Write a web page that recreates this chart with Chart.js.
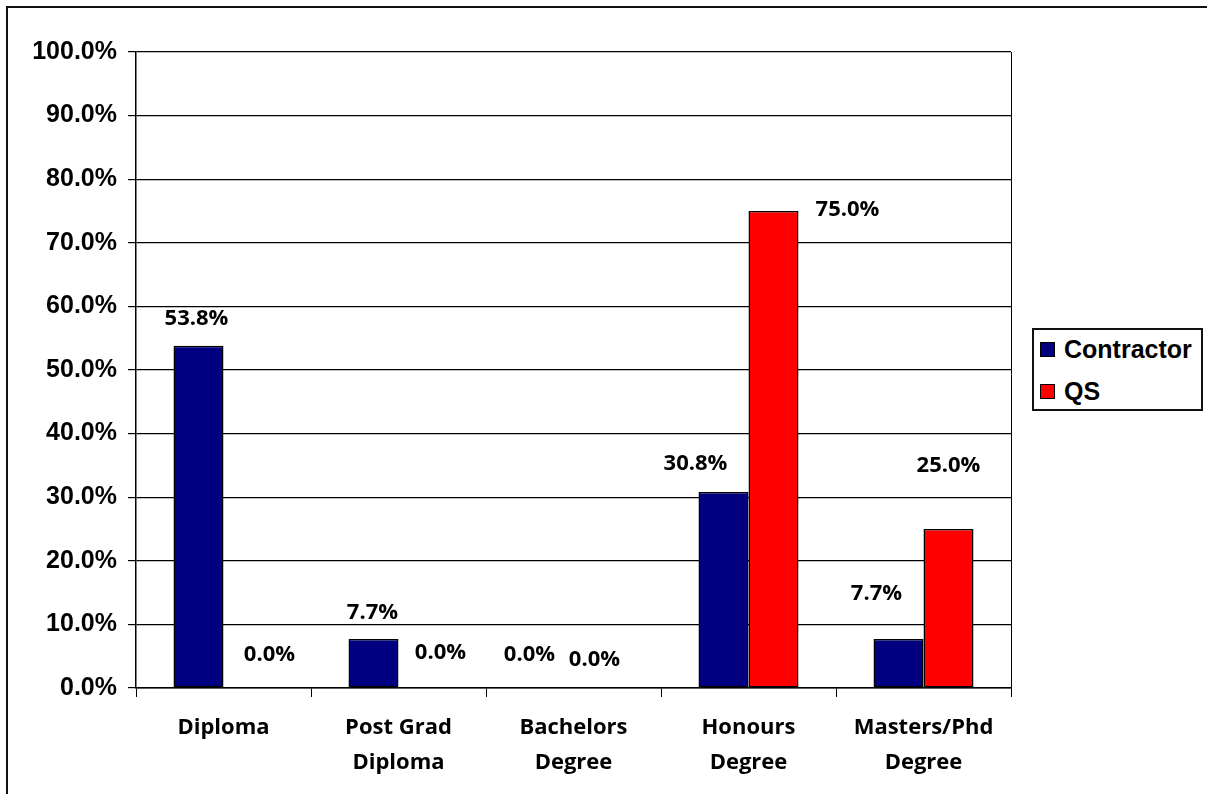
<!DOCTYPE html>
<html>
<head>
<meta charset="utf-8">
<title>Qualifications</title>
<script src="https://cdn.jsdelivr.net/npm/chart.js@4/dist/chart.umd.min.js"></script>
<style>
  html, body { margin: 0; padding: 0; background: #fff; overflow: hidden; }
  .frame {
    position: absolute; left: 6px; top: 6px; width: 1230px; height: 820px;
    border: 2px solid #111; box-sizing: border-box;
  }
  .wrap { position: absolute; left: 0; top: 0; width: 1207px; height: 794px; }
  .legend {
    position: absolute; left: 1032px; top: 328px; width: 171px; height: 83px;
    border: 2px solid #111; box-sizing: border-box; background: #fff;
    font: bold 25px "Liberation Sans", Arial, sans-serif; color: #000;
  }
  .legend .item { position: absolute; left: 6px; height: 30px; display: flex; align-items: center; }
  .legend .swatch { width: 13px; height: 13px; border: 1px solid #000; margin-right: 9px; }
</style>
</head>
<body>
<div class="frame"></div>
<div class="wrap"><canvas id="qualChart" width="1207" height="794"></canvas></div>
<div class="legend" id="legend"></div>
<script>
// qualifications by group
const categories = ['Diploma', ['Post Grad', 'Diploma'], ['Bachelors', 'Degree'], ['Honours', 'Degree'], ['Masters/Phd', 'Degree']];
const contractorPct = [53.8, 7.7, 0.0, 30.8, 7.7];
const qsPct = [0.0, 0.0, 0.0, 75.0, 25.0];
const seriesNames = ['Contractor', 'QS'];

// where each value label sits relative to the top of its bar (dx, dy)
const labelNudge = [
  [[-2, -27], [-1, -26], [-19, -33], [-28, -28], [-22, -45]],
  [[21, -33], [17, -35], [-4, -28], [74, -1], [0, -63]]
];

const labelFont = 'bold 22px "Open Sans", sans-serif';

// value labels drawn above the bars
const valueLabels = {
  id: 'valueLabels',
  afterDatasetsDraw(chart) {
    const ctx = chart.ctx;
    ctx.save();
    ctx.font = labelFont;
    ctx.fillStyle = '#000';
    ctx.textAlign = 'center';
    ctx.textBaseline = 'middle';
    chart.data.datasets.forEach((ds, di) => {
      chart.getDatasetMeta(di).data.forEach((bar, i) => {
        const n = labelNudge[di][i];
        ctx.fillText(ds.data[i].toFixed(1) + '%', bar.x + n[0], bar.y + n[1]);
      });
    });
    ctx.restore();
  }
};

// right edge of the plot area
const plotEdge = {
  id: 'plotEdge',
  afterDraw(chart) {
    const a = chart.chartArea;
    const ctx = chart.ctx;
    const x = Math.round(a.right) + 0.5;
    ctx.save();
    ctx.strokeStyle = '#000';
    ctx.lineWidth = 1;
    ctx.beginPath();
    ctx.moveTo(x, a.top);
    ctx.lineTo(x, a.bottom + 9);
    ctx.stroke();
    ctx.restore();
  }
};

function draw() {
  const chart = new Chart(document.getElementById('qualChart'), {
    type: 'bar',
    data: {
      labels: categories,
      datasets: [{
        label: seriesNames[0],
        data: contractorPct,
        backgroundColor: '#000080',
        borderColor: '#000',
        borderWidth: 1.5
      }, {
        label: seriesNames[1],
        data: qsPct,
        backgroundColor: '#ff0000',
        borderColor: '#000',
        borderWidth: 1.5
      }]
    },
    options: {
      responsive: false,
      animation: false,
      events: [],
      layout: { padding: { top: 52, right: 196, bottom: 0, left: 0 } },
      datasets: { bar: { categoryPercentage: 100 / 175, barPercentage: 1, borderSkipped: false } },
      scales: {
        x: {
          grid: { display: true, drawOnChartArea: false, drawTicks: true, tickLength: 9, color: '#000', offset: true },
          border: { display: true, color: '#000', width: 1.5 },
          ticks: {
            color: '#000',
            padding: 13,
            maxRotation: 0,
            autoSkip: false,
            font: { family: '"Open Sans", sans-serif', size: 22, weight: 'bold', lineHeight: 1.6 }
          },
          afterFit(s) { s.height = 106; }
        },
        y: {
          min: 0,
          max: 100,
          grid: { color: '#000', lineWidth: 1.2, drawTicks: true, tickLength: 8, tickColor: '#000' },
          border: { display: true, color: '#000', width: 1.5 },
          ticks: {
            stepSize: 10,
            color: '#000',
            padding: 11,
            font: { family: '"Liberation Sans", Arial, sans-serif', size: 25, weight: 'bold' },
            callback: v => v.toFixed(1) + '%'
          },
          afterFit(s) { s.width = 136; }
        }
      },
      plugins: {
        legend: { display: false },
        tooltip: { enabled: false }
      }
    },
    plugins: [valueLabels, plotEdge]
  });

  // legend box beside the plot
  const legend = document.getElementById('legend');
  const rowTops = [4, 46];
  chart.data.datasets.forEach((ds, i) => {
    const item = document.createElement('div');
    item.className = 'item';
    item.style.top = rowTops[i] + 'px';
    const sw = document.createElement('span');
    sw.className = 'swatch';
    sw.style.background = ds.backgroundColor;
    const txt = document.createElement('span');
    txt.textContent = ds.label;
    item.appendChild(sw);
    item.appendChild(txt);
    legend.appendChild(item);
  });
}

Promise.all([
  document.fonts.load('bold 22px "Open Sans"'),
  document.fonts.load('bold 25px "Liberation Sans"')
]).then(draw, draw);
</script>
</body>
</html>
